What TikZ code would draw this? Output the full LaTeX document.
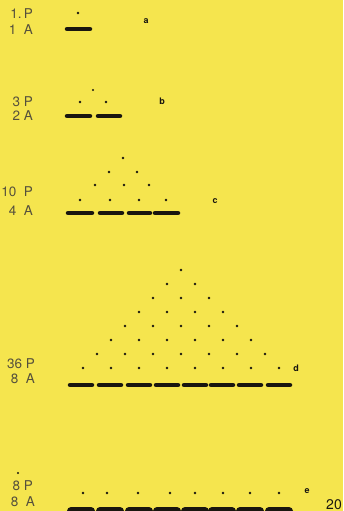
\documentclass[tikz,border=0pt]{standalone}
\usepackage{fontspec}
\setmainfont{TeX Gyre Heros}
\definecolor{bg}{RGB}{245,229,78}
\definecolor{ink}{RGB}{25,22,15}
\definecolor{lab}{RGB}{85,80,60}
\begin{document}
\begin{tikzpicture}[x=1pt,y=-1pt,
  bar/.style={line width=4.5pt,line cap=round,draw=ink},
  pt/.style={fill=ink},
  cnt/.style={anchor=east,inner sep=0pt,text=lab,font=\fontsize{13.5}{13.5}\selectfont},
  tag/.style={inner sep=0pt,text=ink,font=\bfseries\fontsize{9}{9}\selectfont}]
\fill[bg] (0,0) rectangle (343,511);
\useasboundingbox (0,0) rectangle (343,511);
% panel a
\node[cnt] (pa) at (33,14) {1.\,P};
\node[cnt] (aa) at (33,30) {1\ \ A};
\fill[pt] (78,13) circle (1.4);
\draw[bar] (67,29) -- (90,29);
\node[tag] (ta) at (146,21) {a};
% panel b
\node[cnt] (pb) at (33,102) {3\ P};
\node[cnt] (ab) at (33,116) {2\ A};
\fill[pt] (93,90) circle (1.1);
\foreach \x in {80,106} \fill[pt] (\x,102) circle (1.4);
\draw[bar] (67,116) -- (90,116);
\draw[bar] (98,116) -- (120,116);
\node[tag] (tb) at (162,101) {b};
% panel c
\node[cnt] (pc) at (33,192) {10\ \ P};
\node[cnt] (ac) at (33,211) {4\ \ A};
\fill[pt] (123,158) circle (1.4);
\foreach \x in {109,137} \fill[pt] (\x,172) circle (1.4);
\foreach \x in {95,124,149} \fill[pt] (\x,185) circle (1.4);
\foreach \x in {80,110,139,166} \fill[pt] (\x,200) circle (1.4);
\draw[bar] (68,213) -- (92,213);
\draw[bar] (100,213) -- (122,213);
\draw[bar] (129,213) -- (150,213);
\draw[bar] (155,213) -- (178,213);
\node[tag] (tc) at (215,201) {c};
% panel d
\node[cnt] (pd) at (35,364) {36\ P};
\node[cnt] (ad) at (35,379) {8\ \ A};
\foreach \r in {1,...,8}{
  \foreach \j in {1,...,\r}{
    \fill[pt] ({181+(\j-(\r+1)/2)*28},{270+(\r-1)*14}) circle (1.3);
  }
}
\foreach \c in {81,110,139,167,195,222,250,279}
  \draw[bar] (\c-11,385) -- (\c+11,385);
\node[tag] (td) at (296,368) {d};
% panel e
\fill[pt] (18,473) circle (1.1);
\node[cnt] (pe) at (33,486) {8\ P};
\node[cnt] (ae) at (35,502) {8\ \ A};
\foreach \x in {83,107,138,170,195,223,250,279} \fill[pt] (\x,493) circle (1.3);
\foreach \c in {81,110,139,167,195,222,250,279}
  \draw[bar,line width=8pt,line cap=round] (\c-10,511) -- (\c+10,511);
\node[tag] (te) at (307,491) {e};
\node[inner sep=0pt,anchor=base east,text=ink,font=\fontsize{14}{14}\selectfont] (pg) at (342,509) {20};
\end{tikzpicture}
\end{document}
